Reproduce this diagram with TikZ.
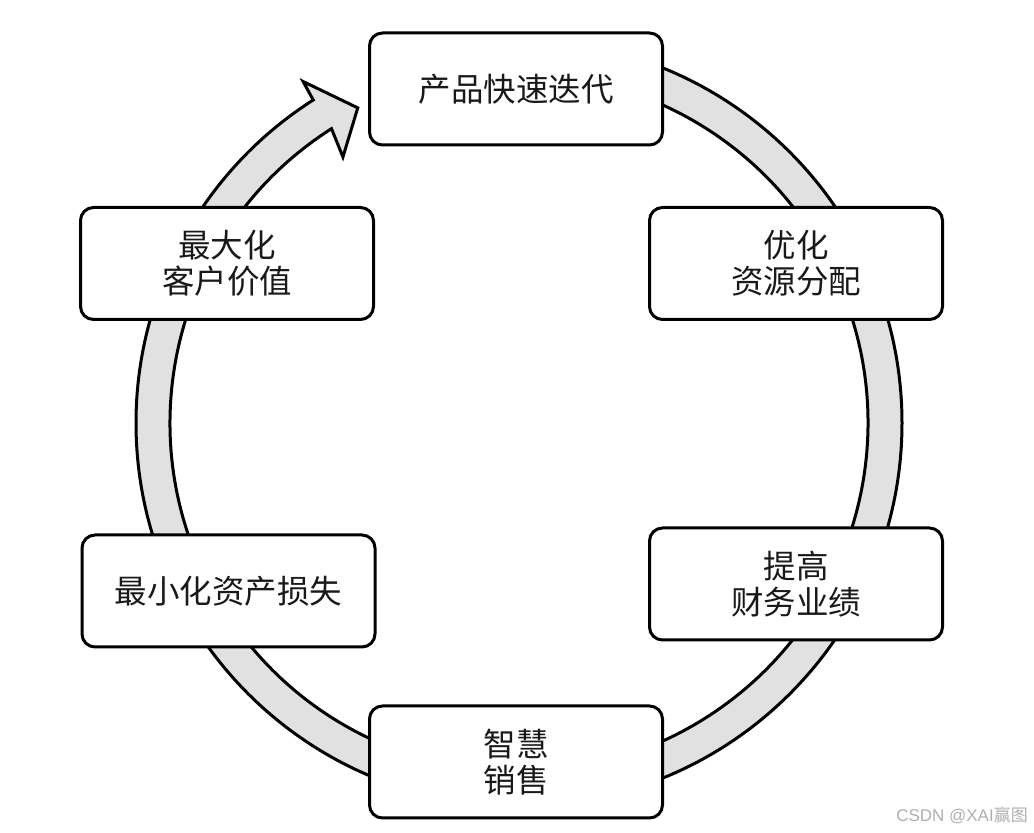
\documentclass[tikz,border=0pt]{standalone}
\usepackage{fontspec}
\usetikzlibrary{calc}
\newfontfamily\cjk{Noto Sans CJK SC}
\newfontfamily\wmfont{Liberation Sans}
\definecolor{ringgray}{RGB}{225,225,225}
\definecolor{txt}{RGB}{25,25,25}
\definecolor{wmgray}{RGB}{175,175,175}
\begin{document}
\begin{tikzpicture}[x=1pt,y=1pt,
  stagebox/.style={draw=black, line width=3pt, rounded corners=13pt, fill=white,
    minimum width=293pt, minimum height=112pt, align=center,
    font=\cjk\fontsize{32.5}{36}\selectfont, text=txt, inner sep=0pt},
  ringpath/.style={draw=black, line width=3pt, fill=ringgray}]
\useasboundingbox (0,0) rectangle (1034,833);
\coordinate (c) at (519,410);
% ring with arrow head
\draw[ringpath] ($(c)+(90:383)$) arc[start angle=90, end angle=-237.5, radius=383]
  -- ($(c)+(122.3:404)$) -- ($(c)+(117.1:354)$) -- ($(c)+(123.5:319)$)
  -- ($(c)+(122.5:349)$) arc[start angle=-237.5, end angle=90, radius=349] -- cycle;
% stages
\node[stagebox] (n1) at (516,744) {产品快速迭代};
\node[stagebox] (n2) at (796,569.5) {优化\\资源分配};
\node[stagebox] (n3) at (796,249) {提高\\财务业绩};
\node[stagebox] (n4) at (516,71) {智慧\\销售};
\node[stagebox] (n5) at (228.5,242) {最小化资产损失};
\node[stagebox] (n6) at (227,569.5) {最大化\\客户价值};
% watermark
\node[font=\wmfont\fontsize{17}{20}\selectfont, text=wmgray, anchor=east, inner sep=0pt] (wm) at (1028,18) {CSDN @XAI{\cjk 赢图}};
\end{tikzpicture}
\end{document}
